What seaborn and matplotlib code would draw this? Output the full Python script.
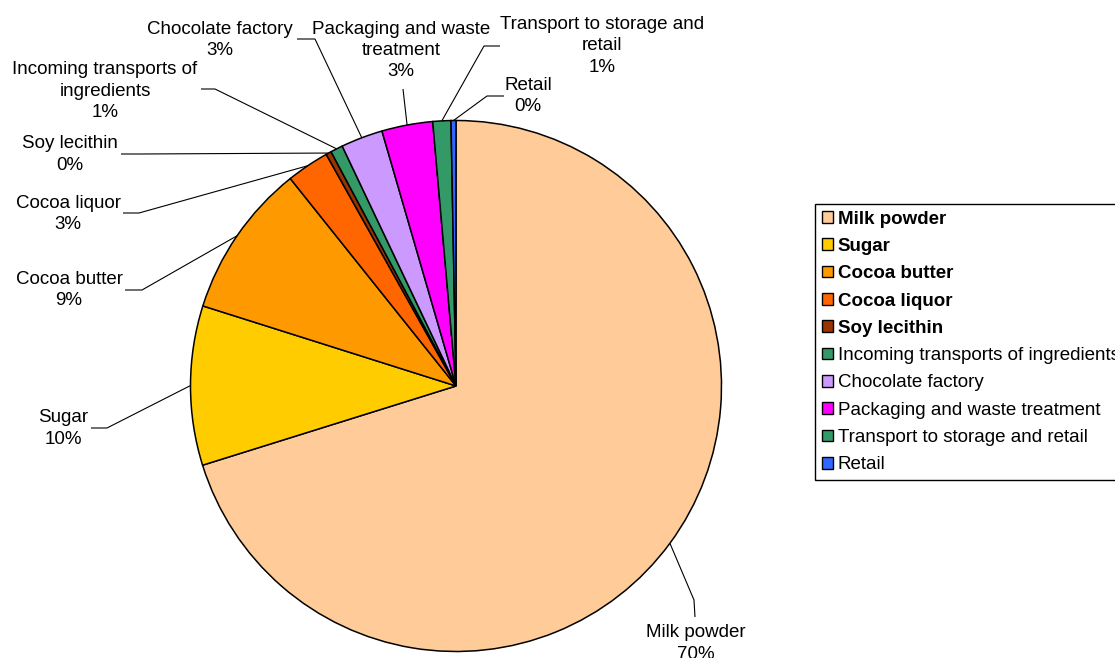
import numpy as np
import matplotlib
matplotlib.use("Agg")
import matplotlib.pyplot as plt
from matplotlib.patches import Patch
import seaborn as sns

# ---- data ----
categories = ["Milk powder", "Sugar", "Cocoa butter", "Cocoa liquor", "Soy lecithin",
              "Incoming transports of ingredients", "Chocolate factory",
              "Packaging and waste treatment", "Transport to storage and retail", "Retail"]
shares = [70.2, 9.7, 9.4, 2.6, 0.33, 0.75, 2.55, 3.1, 1.1, 0.3]
label_names = ["Milk powder", "Sugar", "Cocoa butter", "Cocoa liquor", "Soy lecithin",
               "Incoming transports of\ningredients", "Chocolate factory",
               "Packaging and waste\ntreatment", "Transport to storage and\nretail", "Retail"]
bold_in_legend = [True, True, True, True, True, False, False, False, False, False]
colors = ["#FFCC99", "#FFCC00", "#FF9900", "#FF6600", "#993300",
          "#339966", "#CC99FF", "#FF00FF", "#339966", "#3366FF"]

# ---- layout (pixel coordinates of the 1115x658 canvas, y measured from top) ----
W, H = 1115, 658
pie_cx, pie_cy, pie_r = 456, 386, 265.5
label_pos = [(695.5, 643.5), (63, 428.5), (69, 290), (68, 214), (70, 154.5),
             (105, 91), (220, 40), (401, 50.5), (602, 46), (528, 96)]
leader_pts = [[(694, 600), (695, 617)], [(107, 428), (91, 428)], [(142, 290), (125, 290)],
              [(139, 213), (123, 213)], [(140, 154), (121, 154)], [(215, 89), (201, 89)],
              [(315, 39), (297, 39)], [(403, 89)], [(484, 46), (500, 46)],
              [(487, 96), (504, 96)]]

sns.set_theme(style="white")
plt.rcParams['font.family'] = ['Liberation Sans', 'DejaVu Sans']

fig = plt.figure(figsize=(W / 100, H / 100), dpi=100)
ax = fig.add_axes([0, 0, 1, 1])

def fy(y):
    return H - y

wedges, _ = ax.pie(shares, colors=colors, startangle=90, counterclock=False,
                   center=(pie_cx, fy(pie_cy)), radius=pie_r,
                   wedgeprops=dict(edgecolor="black", linewidth=1.1))
ax.set_xlim(0, W)
ax.set_ylim(0, H)
ax.set_aspect("equal")
ax.axis("off")

total = sum(shares)
cum = np.cumsum([0] + shares[:-1])
for i, (name, v) in enumerate(zip(label_names, shares)):
    mid = (cum[i] + v / 2) / total * 2 * np.pi  # clockwise from top
    x0 = pie_cx + pie_r * np.sin(mid)
    y0 = pie_cy - pie_r * np.cos(mid)
    pts = [(x0, y0)] + leader_pts[i]
    ax.plot([p[0] for p in pts], [fy(p[1]) for p in pts], color="black", lw=0.8,
            solid_capstyle="butt")
    pct = int(round(v / total * 100))
    lx, ly = label_pos[i]
    ax.text(lx, fy(ly), f"{name}\n{pct}%", ha="center", va="center",
            fontsize=13.5, color="black", linespacing=1.31)

handles = [Patch(facecolor=c, edgecolor="black", linewidth=1) for c in colors]
leg = fig.legend(handles, categories, loc="upper left",
                 bbox_to_anchor=(815 / W, 1 - 204 / H), borderaxespad=0,
                 fontsize=13.5, frameon=True, fancybox=False, framealpha=1,
                 edgecolor="black", handlelength=0.59, handleheight=0.59,
                 handletextpad=0.27, borderpad=0.35, labelspacing=0.55)
leg.get_frame().set_linewidth(1)
for t, b in zip(leg.get_texts(), bold_in_legend):
    t.set_color("black")
    if b:
        t.set_fontweight("bold")

fig.savefig("out.png", dpi=100, facecolor="white")
